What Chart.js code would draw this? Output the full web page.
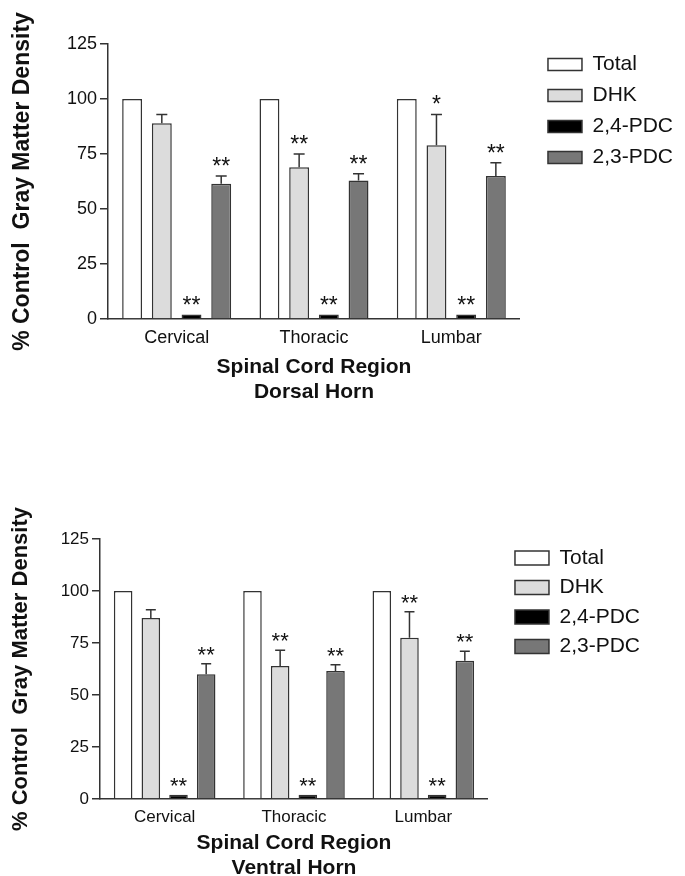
<!DOCTYPE html>
<html>
<head>
<meta charset="utf-8">
<script src="https://cdn.jsdelivr.net/npm/chart.js@4.4.0/dist/chart.umd.min.js"></script>
<style>
    html, body { margin: 0; padding: 0; background: #fff; overflow: hidden; }
    #wrap { position: relative; width: 685px; height: 876px; }
    canvas { position: absolute; left: 0; }
</style>
</head>
<body>
<div id="wrap">
    <canvas id="dorsalChart" width="685" height="440" style="top:0px"></canvas>
    <canvas id="ventralChart" width="685" height="446" style="top:440px"></canvas>
</div>
<script>
var regions = ['Cervical', 'Thoracic', 'Lumbar'];
var seriesNames = ['Total', 'DHK', '2,4-PDC', '2,3-PDC'];
var yTicks = [0, 25, 50, 75, 100, 125];

/* Dorsal horn */
var dorsalTotal = [100, 100, 100];
var dorsalDHK = [89, 69, 79];
var dorsalDHKErr = [4, 6, 14];
var dorsalPDC24 = [2, 2, 2];
var dorsalPDC23 = [61.5, 63, 65];
var dorsalPDC23Err = [3.5, 3, 6];
var dorsalDHKSig = ['', '**', '*'];
var dorsalPDC24Sig = ['**', '**', '**'];
var dorsalPDC23Sig = ['**', '**', '**'];

/* Ventral horn */
var ventralTotal = [100, 100, 100];
var ventralDHK = [87, 64, 77.5];
var ventralDHKErr = [4, 7.5, 12.5];
var ventralPDC24 = [2, 2, 2];
var ventralPDC23 = [60, 61.5, 66.5];
var ventralPDC23Err = [5, 3, 4.5];
var ventralDHKSig = ['', '**', '**'];
var ventralPDC24Sig = ['**', '**', '**'];
var ventralPDC23Sig = ['**', '**', '**'];

var fillColors = ['#ffffff', '#dcdcdc', '#000000', '#777777'];
var edgeColor = '#333333';

Chart.defaults.font.family = '"Liberation Sans", Arial, sans-serif';
Chart.defaults.color = '#111';

/* error bars (upward only) + significance stars */
var errorBarPlugin = {
    id: 'errorBars',
    afterDatasetsDraw: function (chart, args, opts) {
        var ctx = chart.ctx;
        var yScale = chart.scales.y;
        ctx.save();
        ctx.strokeStyle = edgeColor;
        ctx.lineWidth = 1.5;
        ctx.fillStyle = '#111';
        ctx.font = opts.starSize + 'px "Liberation Sans", Arial, sans-serif';
        ctx.textAlign = 'center';
        ctx.textBaseline = 'alphabetic';
        chart.data.datasets.forEach(function (ds, i) {
            var meta = chart.getDatasetMeta(i);
            meta.data.forEach(function (bar, j) {
                var top = bar.y;
                var err = ds.errors ? ds.errors[j] : 0;
                if (err) {
                    var yErr = yScale.getPixelForValue(ds.data[j] + err);
                    ctx.beginPath();
                    ctx.moveTo(bar.x, bar.y);
                    ctx.lineTo(bar.x, yErr);
                    ctx.moveTo(bar.x - opts.capWidth / 2, yErr);
                    ctx.lineTo(bar.x + opts.capWidth / 2, yErr);
                    ctx.stroke();
                    top = yErr;
                }
                var mark = ds.marks ? ds.marks[j] : '';
                if (mark) {
                    ctx.fillText(mark, bar.x, top - opts.starGap);
                }
            });
        });
        ctx.restore();
    }
};

function makeDatasets(total, dhk, dhkErr, dhkSig, pdc24, pdc24Sig, pdc23, pdc23Err, pdc23Sig, barPct, catPct) {
    var values = [total, dhk, pdc24, pdc23];
    var errors = [null, dhkErr, null, pdc23Err];
    var marks = [null, dhkSig, pdc24Sig, pdc23Sig];
    var datasets = [];
    for (let i = 0; i < values.length; i++) {
        datasets.push({
            label: seriesNames[i],
            data: values[i],
            errors: errors[i],
            marks: marks[i],
            backgroundColor: fillColors[i],
            borderColor: edgeColor,
            borderWidth: 1.5,
            barPercentage: barPct,
            categoryPercentage: catPct
        });
    }
    return datasets;
}

function buildChart(canvasId, datasets, title2, cfg) {
    var ctx = document.getElementById(canvasId).getContext('2d');
    return new Chart(ctx, {
        type: 'bar',
        data: {
            labels: regions,
            datasets: datasets
        },
        plugins: [errorBarPlugin],
        options: {
            responsive: false,
            animation: false,
            events: [],
            layout: {
                padding: { top: cfg.top, left: 0, right: cfg.right, bottom: 0 }
            },
            scales: {
                x: {
                    grid: { display: false, drawTicks: false },
                    border: { color: edgeColor, width: 1.5 },
                    ticks: { font: { size: cfg.tickSize }, padding: cfg.xTickPad },
                    title: {
                        display: true,
                        text: ['Spinal Cord Region', title2],
                        font: { size: 21, weight: 'bold', lineHeight: 1.2 },
                        padding: { top: 0, bottom: cfg.xTitlePad }
                    },
                    afterFit: function (scale) { scale.height = cfg.xHeight; }
                },
                y: {
                    min: yTicks[0],
                    max: yTicks[yTicks.length - 1],
                    ticks: { stepSize: yTicks[1] - yTicks[0], padding: 3, font: { size: cfg.tickSize } },
                    grid: { drawOnChartArea: false, drawTicks: true, tickLength: 8, color: edgeColor, lineWidth: 1.5 },
                    border: { color: edgeColor, width: 1.5 },
                    title: {
                        display: true,
                        text: '% Control  Gray Matter Density',
                        font: { size: cfg.yTitleSize, weight: 'bold' },
                        padding: { top: cfg.yTitlePad, bottom: 0 }
                    },
                    afterFit: function (scale) { scale.width = cfg.yWidth; }
                },
                spacer: {
                    type: 'linear',
                    position: 'right',
                    display: true,
                    grid: { display: false },
                    border: { display: false },
                    ticks: { display: false },
                    afterFit: function (scale) { scale.width = cfg.spacer; }
                }
            },
            plugins: {
                legend: {
                    position: 'right',
                    align: 'start',
                    maxWidth: 200,
                    labels: {
                        boxWidth: 34,
                        boxHeight: cfg.boxHeight,
                        padding: cfg.legendPad,
                        font: { size: 21 }
                    }
                },
                tooltip: { enabled: false },
                errorBars: { capWidth: cfg.capWidth, starSize: cfg.starSize, starGap: cfg.starGap }
            }
        }
    });
}

function drawDorsalChart() {
    var datasets = makeDatasets(dorsalTotal, dorsalDHK, dorsalDHKErr, dorsalDHKSig,
        dorsalPDC24, dorsalPDC24Sig, dorsalPDC23, dorsalPDC23Err, dorsalPDC23Sig, 0.67, 0.865);
    buildChart('dorsalChart', datasets, 'Dorsal Horn', {
        top: 44, right: 2, yWidth: 108, xHeight: 121, spacer: 18,
        tickSize: 18, xTickPad: 8, xTitlePad: 35.4, yTitleSize: 23, yTitlePad: 8.5,
        boxHeight: 12, legendPad: 10, capWidth: 11, starSize: 23, starGap: 2
    });
}

function drawVentralChart() {
    var datasets = makeDatasets(ventralTotal, ventralDHK, ventralDHKErr, ventralDHKSig,
        ventralPDC24, ventralPDC24Sig, ventralPDC23, ventralPDC23Err, ventralPDC23Sig, 0.67, 0.856);
    buildChart('ventralChart', datasets, 'Ventral Horn', {
        top: 99, right: 35, yWidth: 100, xHeight: 87, spacer: 18.5,
        tickSize: 17, xTickPad: 8, xTitlePad: 5.4, yTitleSize: 22, yTitlePad: 8,
        boxHeight: 14, legendPad: 8.5, capWidth: 10, starSize: 22, starGap: 2
    });
}

drawDorsalChart();
drawVentralChart();
</script>
</body>
</html>
